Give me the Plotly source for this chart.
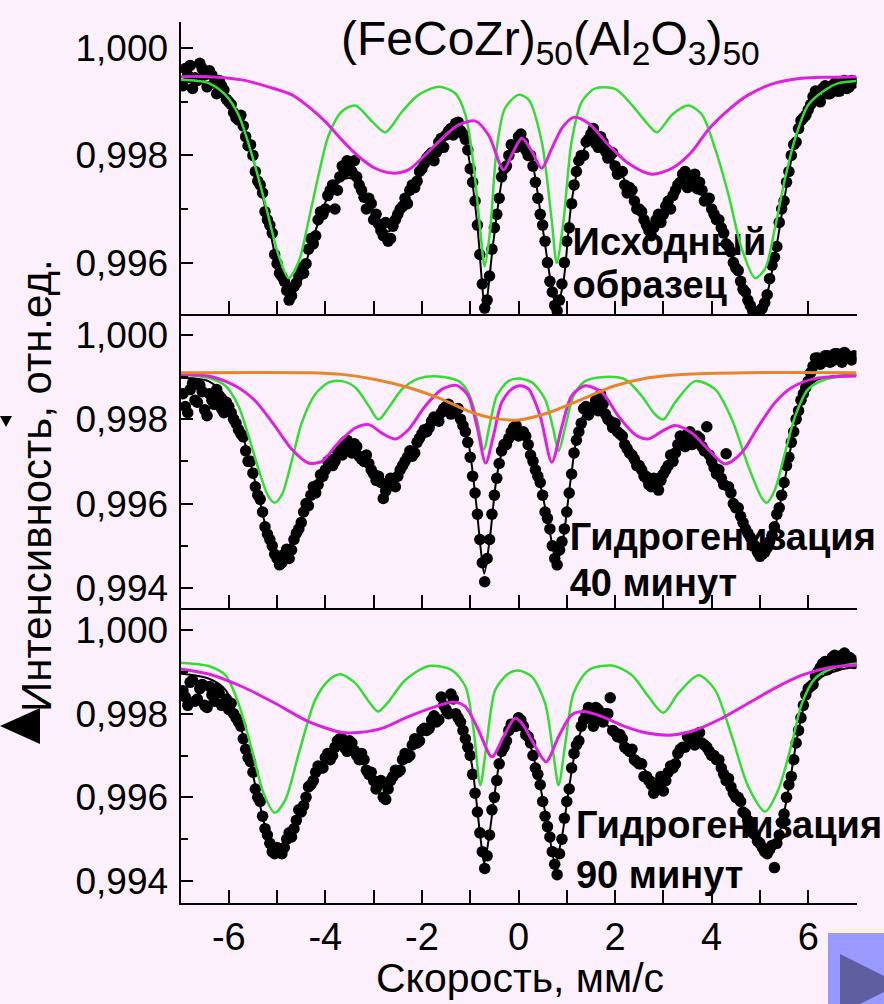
import plotly.graph_objects as go

# ---------------- data ----------------
dot_v = [-6.9, -6.8, -6.7, -6.6, -6.5, -6.4, -6.3, -6.2, -6.1, -6.0,
         -5.9, -5.8, -5.7, -5.6, -5.5, -5.4, -5.3, -5.2, -5.1, -5.0,
         -4.9, -4.8, -4.7, -4.6, -4.5, -4.4, -4.3, -4.2, -4.1, -4.0,
         -3.9, -3.8, -3.7, -3.6, -3.5, -3.4, -3.3, -3.2, -3.1, -3.0,
         -2.9, -2.8, -2.7, -2.6, -2.5, -2.4, -2.3, -2.2, -2.1, -2.0,
         -1.9, -1.8, -1.7, -1.6, -1.5, -1.4, -1.3, -1.2, -1.1, -1.0,
         -0.9, -0.8, -0.7, -0.6, -0.5, -0.4, -0.3, -0.2, -0.1, 0.0,
         0.1, 0.2, 0.3, 0.4, 0.5, 0.6, 0.7, 0.8, 0.9, 1.0,
         1.1, 1.2, 1.3, 1.4, 1.5, 1.6, 1.7, 1.8, 1.9, 2.0,
         2.1, 2.2, 2.3, 2.4, 2.5, 2.6, 2.7, 2.8, 2.9, 3.0,
         3.1, 3.2, 3.3, 3.4, 3.5, 3.6, 3.7, 3.8, 3.9, 4.0,
         4.1, 4.2, 4.3, 4.4, 4.5, 4.6, 4.7, 4.8, 4.9, 5.0,
         5.1, 5.2, 5.3, 5.4, 5.5, 5.6, 5.7, 5.8, 5.9, 6.0,
         6.1, 6.2, 6.3, 6.4, 6.5, 6.6, 6.7, 6.8, 6.9]

dot_v2 = [-6.95, -6.85, -6.75, -6.65, -6.55, -6.45, -6.35, -6.25, -6.15, -6.05,
          -5.95, -5.85, -5.75, -5.65, -5.55, -5.45, -5.35, -5.25, -5.15, -5.05,
          -4.95, -4.85, -4.75, -4.65, -4.55, -4.45, -4.35, -4.25, -4.15, -4.05,
          -3.95, -3.85, -3.75, -3.65, -3.55, -3.45, -3.35, -3.25, -3.15, -3.05,
          -2.95, -2.85, -2.75, -2.65, -2.55, -2.45, -2.35, -2.25, -2.15, -2.05,
          -1.95, -1.85, -1.75, -1.65, -1.55, -1.45, -1.35, -1.25, -1.15, -1.05,
          -0.95, -0.85, -0.75, -0.65, -0.55, -0.45, -0.35, -0.25, -0.15, -0.05,
          0.05, 0.15, 0.25, 0.35, 0.45, 0.55, 0.65, 0.75, 0.85, 0.95,
          1.05, 1.15, 1.25, 1.35, 1.45, 1.55, 1.65, 1.75, 1.85, 1.95,
          2.05, 2.15, 2.25, 2.35, 2.45, 2.55, 2.65, 2.75, 2.85, 2.95,
          3.05, 3.15, 3.25, 3.35, 3.45, 3.55, 3.65, 3.75, 3.85, 3.95,
          4.05, 4.15, 4.25, 4.35, 4.45, 4.55, 4.65, 4.75, 4.85, 4.95,
          5.05, 5.15, 5.25, 5.35, 5.45, 5.55, 5.65, 5.75, 5.85, 5.95,
          6.05, 6.15, 6.25, 6.35, 6.45, 6.55, 6.65, 6.75, 6.85, 6.95]

p1_dots = [0.99962, 0.99968, 0.99945, 0.99972, 0.99950, 0.99958, 0.99935, 0.99940, 0.99922, 0.99900,
           0.99880, 0.99866, 0.99855, 0.99818, 0.99800, 0.99752, 0.99730, 0.99680, 0.99655, 0.99598,
           0.99574, 0.99548, 0.99538, 0.99562, 0.99590, 0.99598, 0.99645, 0.99650, 0.99695, 0.99700,
           0.99735, 0.99700, 0.99760, 0.99768, 0.99775, 0.99790, 0.99745, 0.99722, 0.99720, 0.99680,
           0.99672, 0.99650, 0.99640, 0.99668, 0.99690, 0.99705, 0.99710, 0.99745, 0.99752, 0.99775,
           0.99795, 0.99805, 0.99806, 0.99832, 0.99838, 0.99850, 0.99860, 0.99846, 0.99830, 0.99775,
           0.99715, 0.99615, 0.99515, 0.99575, 0.99665, 0.99720, 0.99775, 0.99800, 0.99815, 0.99835,
           0.99825, 0.99800, 0.99780, 0.99720, 0.99670, 0.99600, 0.99545, 0.99510, 0.99560, 0.99640,
           0.99710, 0.99770, 0.99800, 0.99825, 0.99840, 0.99822, 0.99835, 0.99808, 0.99800, 0.99780,
           0.99770, 0.99745, 0.99740, 0.99715, 0.99700, 0.99680, 0.99660, 0.99665, 0.99690, 0.99690,
           0.99715, 0.99725, 0.99745, 0.99765, 0.99740, 0.99760, 0.99738, 0.99735, 0.99720, 0.99700,
           0.99680, 0.99665, 0.99635, 0.99620, 0.99590, 0.99565, 0.99545, 0.99520, 0.99508, 0.99510,
           0.99525, 0.99570, 0.99610, 0.99675, 0.99715, 0.99770, 0.99820, 0.99850, 0.99870, 0.99885,
           0.99910, 0.99905, 0.99925, 0.99915, 0.99930, 0.99920, 0.99935, 0.99925, 0.99940]

p1_dots2 = [0.99930, 0.99950, 0.99925, 0.99940, 0.99962, 0.99928, 0.99950, 0.99915, 0.99930, 0.99905,
            0.99895, 0.99870, 0.99875, 0.99835, 0.99820, 0.99770, 0.99745, 0.99695, 0.99670, 0.99615,
            0.99580, 0.99565, 0.99530, 0.99555, 0.99575, 0.99580, 0.99625, 0.99635, 0.99680, 0.99690,
            0.99725, 0.99745, 0.99735, 0.99780, 0.99790, 0.99770, 0.99760, 0.99735, 0.99700, 0.99710,
            0.99690, 0.99660, 0.99675, 0.99645, 0.99680, 0.99700, 0.99720, 0.99735, 0.99740, 0.99770,
            0.99785, 0.99800, 0.99790, 0.99825, 0.99815, 0.99845, 0.99838, 0.99862, 0.99840, 0.99810,
            0.99750, 0.99670, 0.99560, 0.99530, 0.99625, 0.99690, 0.99760, 0.99780, 0.99820, 0.99815,
            0.99840, 0.99810, 0.99800, 0.99750, 0.99690, 0.99640, 0.99565, 0.99520, 0.99530, 0.99600,
            0.99665, 0.99745, 0.99790, 0.99800, 0.99830, 0.99850, 0.99815, 0.99825, 0.99795, 0.99805,
            0.99765, 0.99770, 0.99730, 0.99735, 0.99700, 0.99695, 0.99670, 0.99650, 0.99680, 0.99675,
            0.99705, 0.99700, 0.99735, 0.99750, 0.99770, 0.99745, 0.99765, 0.99750, 0.99715, 0.99720,
            0.99690, 0.99680, 0.99655, 0.99630, 0.99600, 0.99585, 0.99550, 0.99530, 0.99510, 0.99506,
            0.99515, 0.99540, 0.99595, 0.99630, 0.99700, 0.99750, 0.99800, 0.99825, 0.99865, 0.99875,
            0.99895, 0.99920, 0.99900, 0.99930, 0.99915, 0.99935, 0.99920, 0.99940, 0.99928, 0.99935]

p2_dots = [0.99830, 0.99870, 0.99845, 0.99880, 0.99822, 0.99860, 0.99835, 0.99850, 0.99815, 0.99830,
           0.99800, 0.99775, 0.99758, 0.99700, 0.99672, 0.99620, 0.99580, 0.99528, 0.99500, 0.99470,
           0.99460, 0.99492, 0.99490, 0.99530, 0.99555, 0.99600, 0.99620, 0.99625, 0.99668, 0.99680,
           0.99705, 0.99700, 0.99730, 0.99745, 0.99725, 0.99742, 0.99712, 0.99700, 0.99695, 0.99670,
           0.99665, 0.99612, 0.99640, 0.99655, 0.99665, 0.99690, 0.99710, 0.99712, 0.99745, 0.99765,
           0.99770, 0.99795, 0.99800, 0.99815, 0.99830, 0.99812, 0.99820, 0.99800, 0.99770, 0.99710,
           0.99625, 0.99515, 0.99415, 0.99515, 0.99620, 0.99695, 0.99740, 0.99755, 0.99780, 0.99760,
           0.99770, 0.99740, 0.99700, 0.99665, 0.99620, 0.99565, 0.99500, 0.99455, 0.99510, 0.99580,
           0.99670, 0.99750, 0.99790, 0.99830, 0.99820, 0.99845, 0.99858, 0.99812, 0.99795, 0.99790,
           0.99765, 0.99740, 0.99720, 0.99705, 0.99690, 0.99665, 0.99645, 0.99660, 0.99632, 0.99670,
           0.99690, 0.99700, 0.99740, 0.99750, 0.99765, 0.99740, 0.99760, 0.99735, 0.99782, 0.99700,
           0.99670, 0.99660, 0.99718, 0.99625, 0.99590, 0.99570, 0.99540, 0.99520, 0.99500, 0.99475,
           0.99485, 0.99510, 0.99545, 0.99590, 0.99650, 0.99710, 0.99770, 0.99820, 0.99860, 0.99890,
           0.99925, 0.99945, 0.99935, 0.99950, 0.99938, 0.99955, 0.99935, 0.99952, 0.99940]

p2_dots2 = [0.99860, 0.99815, 0.99885, 0.99840, 0.99865, 0.99808, 0.99845, 0.99870, 0.99825, 0.99840,
            0.99815, 0.99790, 0.99765, 0.99725, 0.99700, 0.99640, 0.99610, 0.99545, 0.99515, 0.99480,
            0.99455, 0.99480, 0.99470, 0.99515, 0.99540, 0.99580, 0.99595, 0.99640, 0.99645, 0.99665,
            0.99700, 0.99690, 0.99725, 0.99715, 0.99750, 0.99720, 0.99735, 0.99705, 0.99715, 0.99680,
            0.99655, 0.99650, 0.99630, 0.99660, 0.99640, 0.99680, 0.99700, 0.99725, 0.99720, 0.99755,
            0.99775, 0.99780, 0.99805, 0.99795, 0.99825, 0.99835, 0.99815, 0.99825, 0.99785, 0.99745,
            0.99665, 0.99575, 0.99460, 0.99470, 0.99575, 0.99660, 0.99725, 0.99740, 0.99770, 0.99785,
            0.99765, 0.99760, 0.99715, 0.99680, 0.99650, 0.99580, 0.99540, 0.99470, 0.99490, 0.99540,
            0.99625, 0.99720, 0.99770, 0.99825, 0.99810, 0.99830, 0.99820, 0.99835, 0.99800, 0.99780,
            0.99770, 0.99760, 0.99730, 0.99715, 0.99690, 0.99680, 0.99660, 0.99640, 0.99650, 0.99655,
            0.99680, 0.99715, 0.99720, 0.99760, 0.99735, 0.99770, 0.99745, 0.99755, 0.99725, 0.99715,
            0.99685, 0.99680, 0.99645, 0.99640, 0.99600, 0.99590, 0.99555, 0.99530, 0.99500, 0.99485,
            0.99480, 0.99495, 0.99525, 0.99575, 0.99620, 0.99690, 0.99745, 0.99800, 0.99845, 0.99875,
            0.99910, 0.99945, 0.99930, 0.99950, 0.99935, 0.99955, 0.99940, 0.99958, 0.99945, 0.99950]

p3_dots = [0.99840, 0.99875, 0.99830, 0.99860, 0.99820, 0.99865, 0.99830, 0.99850, 0.99825, 0.99810,
           0.99800, 0.99780, 0.99740, 0.99695, 0.99660, 0.99600, 0.99555, 0.99510, 0.99470, 0.99480,
           0.99465, 0.99500, 0.99505, 0.99545, 0.99565, 0.99600, 0.99630, 0.99660, 0.99670, 0.99695,
           0.99690, 0.99720, 0.99740, 0.99718, 0.99735, 0.99712, 0.99690, 0.99690, 0.99655, 0.99640,
           0.99630, 0.99600, 0.99620, 0.99650, 0.99660, 0.99690, 0.99695, 0.99725, 0.99730, 0.99760,
           0.99760, 0.99785, 0.99780, 0.99840, 0.99810, 0.99847, 0.99800, 0.99780, 0.99740, 0.99700,
           0.99610, 0.99515, 0.99430, 0.99510, 0.99600, 0.99680, 0.99720, 0.99760, 0.99770, 0.99790,
           0.99770, 0.99745, 0.99700, 0.99655, 0.99590, 0.99530, 0.99470, 0.99415, 0.99500, 0.99590,
           0.99670, 0.99725, 0.99770, 0.99800, 0.99790, 0.99815, 0.99790, 0.99800, 0.99838, 0.99755,
           0.99750, 0.99720, 0.99710, 0.99690, 0.99680, 0.99650, 0.99640, 0.99610, 0.99630, 0.99615,
           0.99660, 0.99670, 0.99705, 0.99720, 0.99745, 0.99730, 0.99750, 0.99730, 0.99720, 0.99700,
           0.99690, 0.99670, 0.99640, 0.99625, 0.99600, 0.99590, 0.99560, 0.99535, 0.99510, 0.99490,
           0.99470, 0.99475, 0.99432, 0.99510, 0.99560, 0.99630, 0.99690, 0.99760, 0.99820, 0.99860,
           0.99870, 0.99900, 0.99920, 0.99905, 0.99935, 0.99915, 0.99940, 0.99925, 0.99930]

p3_dots2 = [0.99855, 0.99820, 0.99880, 0.99835, 0.99870, 0.99815, 0.99845, 0.99860, 0.99820, 0.99835,
            0.99825, 0.99790, 0.99770, 0.99715, 0.99685, 0.99620, 0.99590, 0.99525, 0.99490, 0.99465,
            0.99470, 0.99480, 0.99515, 0.99525, 0.99570, 0.99580, 0.99625, 0.99640, 0.99675, 0.99670,
            0.99705, 0.99700, 0.99735, 0.99740, 0.99710, 0.99730, 0.99700, 0.99705, 0.99665, 0.99660,
            0.99620, 0.99640, 0.99595, 0.99640, 0.99665, 0.99665, 0.99705, 0.99700, 0.99740, 0.99735,
            0.99765, 0.99765, 0.99795, 0.99785, 0.99820, 0.99800, 0.99835, 0.99790, 0.99760, 0.99720,
            0.99655, 0.99565, 0.99470, 0.99460, 0.99570, 0.99640, 0.99710, 0.99735, 0.99775, 0.99770,
            0.99785, 0.99750, 0.99730, 0.99670, 0.99630, 0.99555, 0.99505, 0.99440, 0.99465, 0.99550,
            0.99620, 0.99705, 0.99735, 0.99785, 0.99815, 0.99770, 0.99810, 0.99780, 0.99800, 0.99760,
            0.99745, 0.99740, 0.99715, 0.99715, 0.99685, 0.99680, 0.99650, 0.99630, 0.99625, 0.99650,
            0.99640, 0.99675, 0.99680, 0.99715, 0.99720, 0.99740, 0.99725, 0.99755, 0.99725, 0.99710,
            0.99700, 0.99690, 0.99655, 0.99645, 0.99610, 0.99600, 0.99565, 0.99545, 0.99515, 0.99495,
            0.99480, 0.99465, 0.99485, 0.99490, 0.99540, 0.99600, 0.99650, 0.99730, 0.99790, 0.99845,
            0.99865, 0.99890, 0.99910, 0.99925, 0.99915, 0.99940, 0.99925, 0.99945, 0.99935, 0.99920]

# fitted curves: (velocity, intensity)
p1_fit = [(-7.0, 0.99938), (-6.4, 0.99932), (-6.07, 0.99913), (-5.8, 0.99876), (-5.52, 0.99801),
          (-5.24, 0.99701), (-4.97, 0.99589), (-4.73, 0.99543), (-4.49, 0.99577), (-4.21, 0.99658),
          (-3.93, 0.99726), (-3.66, 0.99754), (-3.45, 0.99757), (-3.17, 0.99726), (-2.9, 0.99677),
          (-2.69, 0.99658), (-2.41, 0.99695), (-2.14, 0.99751), (-1.79, 0.99801), (-1.45, 0.99838),
          (-1.21, 0.99851), (-1.04, 0.99801), (-0.86, 0.99677), (-0.69, 0.99518), (-0.52, 0.99639),
          (-0.31, 0.99770), (-0.14, 0.99813), (0.07, 0.99832), (0.28, 0.99788), (0.48, 0.99677),
          (0.69, 0.99552), (0.79, 0.99515), (0.93, 0.99564), (1.1, 0.99714), (1.31, 0.99801),
          (1.52, 0.99832), (1.79, 0.99813), (2.14, 0.99764), (2.49, 0.99701), (2.76, 0.99670),
          (3.04, 0.99695), (3.31, 0.99739), (3.52, 0.99757), (3.8, 0.99739), (4.07, 0.99689),
          (4.42, 0.99614), (4.69, 0.99546), (4.9, 0.99515), (5.11, 0.99533), (5.31, 0.99614),
          (5.52, 0.99726), (5.73, 0.99826), (6.0, 0.99894), (6.35, 0.99922), (7.0, 0.99935)]

p1_green = [(-7.0, 0.99941), (-6.42, 0.99935), (-6.07, 0.99913), (-5.8, 0.99876), (-5.52, 0.99801),
            (-5.24, 0.99708), (-4.97, 0.99614), (-4.76, 0.99571), (-4.55, 0.99602), (-4.35, 0.99677),
            (-4.14, 0.99764), (-3.93, 0.99838), (-3.66, 0.99882), (-3.38, 0.99893), (-3.03, 0.99863),
            (-2.76, 0.99843), (-2.41, 0.99882), (-2.07, 0.99913), (-1.65, 0.99928), (-1.31, 0.99916),
            (-1.1, 0.99876), (-0.93, 0.99782), (-0.79, 0.99658), (-0.7, 0.99593), (-0.59, 0.99658),
            (-0.45, 0.99813), (-0.28, 0.99888), (0.0, 0.99913), (0.21, 0.99904), (0.48, 0.99826),
            (0.69, 0.99677), (0.79, 0.99599), (0.93, 0.99677), (1.1, 0.99826), (1.31, 0.99900),
            (1.59, 0.99925), (2.0, 0.99924), (2.35, 0.99894), (2.69, 0.99857), (2.87, 0.99843),
            (3.18, 0.99876), (3.52, 0.99893), (3.8, 0.99876), (4.07, 0.99813), (4.35, 0.99726),
            (4.62, 0.99627), (4.9, 0.99571), (5.11, 0.99589), (5.31, 0.99664), (5.52, 0.99757),
            (5.73, 0.99832), (6.0, 0.99894), (6.35, 0.99922), (6.63, 0.99935), (7.0, 0.99939)]

p1_magenta = [(-7.0, 0.99947), (-6.42, 0.99947), (-5.73, 0.99941), (-5.18, 0.99928), (-4.69, 0.99913),
              (-4.35, 0.99891), (-4.0, 0.99863), (-3.66, 0.99829), (-3.31, 0.99798), (-2.97, 0.99776),
              (-2.62, 0.99767), (-2.28, 0.99773), (-1.93, 0.99801), (-1.58, 0.99832), (-1.24, 0.99857),
              (-0.89, 0.99864), (-0.62, 0.99838), (-0.31, 0.99773), (-0.14, 0.99801), (0.07, 0.99832),
              (0.28, 0.99807), (0.48, 0.99776), (0.69, 0.99813), (0.9, 0.99851), (1.14, 0.99871),
              (1.45, 0.99860), (1.86, 0.99820), (2.28, 0.99785), (2.76, 0.99765), (3.18, 0.99776),
              (3.59, 0.99807), (3.93, 0.99848), (4.35, 0.99885), (4.76, 0.99913), (5.31, 0.99935),
              (5.87, 0.99944), (6.42, 0.99946), (7.0, 0.99947)]

p2_fit = [(-7.0, 0.99898), (-6.42, 0.99890), (-6.07, 0.99855), (-5.8, 0.99791), (-5.59, 0.99712),
          (-5.38, 0.99617), (-5.18, 0.99521), (-5.0, 0.99474), (-4.8, 0.99490), (-4.56, 0.99545),
          (-4.28, 0.99617), (-4.0, 0.99680), (-3.73, 0.99720), (-3.49, 0.99732), (-3.17, 0.99704),
          (-2.83, 0.99656), (-2.62, 0.99648), (-2.35, 0.99688), (-2.0, 0.99760), (-1.65, 0.99807),
          (-1.38, 0.99823), (-1.1, 0.99775), (-0.9, 0.99625), (-0.78, 0.99490), (-0.71, 0.99434),
          (-0.59, 0.99521), (-0.45, 0.99664), (-0.28, 0.99744), (-0.07, 0.99772), (0.05, 0.99775),
          (0.21, 0.99744), (0.41, 0.99664), (0.59, 0.99569), (0.72, 0.99490), (0.79, 0.99458),
          (0.93, 0.99521), (1.07, 0.99648), (1.24, 0.99775), (1.45, 0.99831), (1.62, 0.99839),
          (1.93, 0.99799), (2.28, 0.99736), (2.62, 0.99680), (2.83, 0.99668), (3.11, 0.99696),
          (3.38, 0.99744), (3.59, 0.99752), (3.87, 0.99720), (4.21, 0.99664), (4.56, 0.99585),
          (4.83, 0.99514), (5.04, 0.99490), (5.25, 0.99521), (5.45, 0.99617), (5.66, 0.99744),
          (5.87, 0.99839), (6.14, 0.99890), (6.56, 0.99902), (7.0, 0.99904)]

p2_green = [(-7.0, 0.99906), (-6.42, 0.99898), (-6.07, 0.99879), (-5.8, 0.99831), (-5.59, 0.99760),
            (-5.38, 0.99680), (-5.18, 0.99617), (-5.05, 0.99602), (-4.9, 0.99621), (-4.69, 0.99704),
            (-4.49, 0.99791), (-4.21, 0.99859), (-3.93, 0.99887), (-3.66, 0.99890), (-3.38, 0.99875),
            (-3.1, 0.99831), (-2.9, 0.99799), (-2.69, 0.99827), (-2.41, 0.99871), (-2.07, 0.99896),
            (-1.65, 0.99901), (-1.24, 0.99890), (-1.04, 0.99863), (-0.86, 0.99799), (-0.72, 0.99728),
            (-0.59, 0.99791), (-0.45, 0.99855), (-0.21, 0.99890), (0.0, 0.99896), (0.28, 0.99887),
            (0.55, 0.99847), (0.72, 0.99776), (0.83, 0.99724), (0.97, 0.99783), (1.14, 0.99855),
            (1.38, 0.99890), (1.79, 0.99900), (2.21, 0.99894), (2.55, 0.99855), (2.83, 0.99811),
            (3.0, 0.99799), (3.24, 0.99839), (3.66, 0.99890), (4.07, 0.99871), (4.42, 0.99799),
            (4.76, 0.99688), (5.04, 0.99613), (5.14, 0.99602), (5.31, 0.99633), (5.52, 0.99720),
            (5.73, 0.99807), (6.0, 0.99871), (6.35, 0.99894), (7.0, 0.99904)]

p2_magenta = [(-7.0, 0.99906), (-6.42, 0.99902), (-5.87, 0.99879), (-5.45, 0.99843), (-5.04, 0.99783),
              (-4.69, 0.99728), (-4.35, 0.99696), (-4.07, 0.99700), (-3.73, 0.99744), (-3.38, 0.99779),
              (-3.1, 0.99787), (-2.83, 0.99767), (-2.55, 0.99753), (-2.28, 0.99775), (-1.93, 0.99831),
              (-1.58, 0.99871), (-1.28, 0.99880), (-1.04, 0.99855), (-0.86, 0.99783), (-0.68, 0.99696),
              (-0.52, 0.99760), (-0.35, 0.99839), (-0.14, 0.99871), (0.03, 0.99879), (0.21, 0.99871),
              (0.45, 0.99807), (0.69, 0.99698), (0.9, 0.99783), (1.1, 0.99855), (1.38, 0.99879),
              (1.73, 0.99863), (2.07, 0.99807), (2.42, 0.99763), (2.69, 0.99753), (2.97, 0.99771),
              (3.24, 0.99785), (3.59, 0.99767), (3.93, 0.99728), (4.28, 0.99694), (4.62, 0.99720),
              (4.97, 0.99783), (5.31, 0.99839), (5.66, 0.99875), (6.14, 0.99896), (7.0, 0.99902)]

p2_orange = [(-7.0, 0.99910), (-4.35, 0.99910), (-3.66, 0.99906), (-2.97, 0.99894), (-2.28, 0.99875),
             (-1.58, 0.99847), (-1.04, 0.99819), (-0.55, 0.99803), (0.0, 0.99798), (0.62, 0.99815),
             (1.31, 0.99847), (2.0, 0.99879), (2.69, 0.99898), (3.38, 0.99906), (4.76, 0.99910),
             (7.0, 0.99910)]

p3_fit = [(-7.0, 0.99896), (-6.42, 0.99884), (-6.07, 0.99857), (-5.8, 0.99785), (-5.59, 0.99697),
          (-5.38, 0.99594), (-5.18, 0.99506), (-5.0, 0.99478), (-4.83, 0.99494), (-4.55, 0.99562),
          (-4.28, 0.99641), (-4.0, 0.99689), (-3.73, 0.99721), (-3.52, 0.99725), (-3.24, 0.99689),
          (-2.97, 0.99633), (-2.76, 0.99625), (-2.49, 0.99665), (-2.14, 0.99729), (-1.72, 0.99785),
          (-1.38, 0.99809), (-1.17, 0.99777), (-0.97, 0.99681), (-0.79, 0.99506), (-0.71, 0.99442),
          (-0.59, 0.99522), (-0.41, 0.99673), (-0.21, 0.99753), (0.0, 0.99785), (0.21, 0.99737),
          (0.41, 0.99649), (0.62, 0.99522), (0.76, 0.99442), (0.9, 0.99506), (1.04, 0.99618),
          (1.21, 0.99729), (1.38, 0.99777), (1.59, 0.99785), (1.93, 0.99765), (2.28, 0.99721),
          (2.62, 0.99665), (2.9, 0.99641), (3.18, 0.99673), (3.52, 0.99729), (3.73, 0.99741),
          (4.0, 0.99713), (4.35, 0.99641), (4.69, 0.99562), (5.04, 0.99490), (5.21, 0.99474),
          (5.38, 0.99506), (5.59, 0.99618), (5.8, 0.99761), (6.0, 0.99849), (6.28, 0.99888),
          (6.63, 0.99904), (7.0, 0.99912)]

p3_green = [(-7.0, 0.99922), (-6.42, 0.99914), (-6.07, 0.99892), (-5.8, 0.99825), (-5.52, 0.99713),
            (-5.28, 0.99610), (-5.05, 0.99563), (-4.83, 0.99594), (-4.55, 0.99705), (-4.21, 0.99833),
            (-3.93, 0.99880), (-3.69, 0.99894), (-3.38, 0.99873), (-3.1, 0.99829), (-2.91, 0.99805),
            (-2.69, 0.99829), (-2.35, 0.99880), (-1.86, 0.99914), (-1.38, 0.99904), (-1.1, 0.99865),
            (-0.93, 0.99761), (-0.79, 0.99629), (-0.66, 0.99729), (-0.48, 0.99857), (-0.21, 0.99896),
            (0.0, 0.99903), (0.28, 0.99888), (0.55, 0.99825), (0.72, 0.99705), (0.83, 0.99629),
            (0.97, 0.99729), (1.14, 0.99849), (1.45, 0.99904), (1.93, 0.99915), (2.35, 0.99892),
            (2.69, 0.99841), (3.0, 0.99802), (3.31, 0.99849), (3.73, 0.99892), (4.07, 0.99857),
            (4.42, 0.99745), (4.76, 0.99625), (5.11, 0.99566), (5.38, 0.99618), (5.66, 0.99729),
            (5.87, 0.99825), (6.14, 0.99884), (6.49, 0.99908), (7.0, 0.99920)]

p3_magenta = [(-7.0, 0.99907), (-6.42, 0.99895), (-5.73, 0.99865), (-5.04, 0.99825), (-4.35, 0.99781),
              (-3.66, 0.99755), (-3.31, 0.99755), (-2.83, 0.99765), (-2.28, 0.99793), (-1.72, 0.99817),
              (-1.35, 0.99828), (-1.1, 0.99817), (-0.83, 0.99761), (-0.55, 0.99697), (-0.31, 0.99745),
              (-0.07, 0.99789), (0.07, 0.99777), (0.35, 0.99721), (0.57, 0.99685), (0.83, 0.99745),
              (1.1, 0.99797), (1.35, 0.99805), (1.73, 0.99793), (2.21, 0.99769), (2.69, 0.99753),
              (3.18, 0.99749), (3.66, 0.99761), (4.21, 0.99789), (4.76, 0.99825), (5.31, 0.99861),
              (5.87, 0.99892), (6.42, 0.99910), (7.0, 0.99916)]

panel_labels = [["Исходный", "образец"],
                ["Гидрогенизация", "40 минут"],
                ["Гидрогенизация", "90 минут"]]
label_pos = [(1.12, [0.99631, 0.99551]),
             (1.06, [0.99512, 0.99403]),
             (1.19, [0.99525, 0.99405])]

x_range = [-7, 7]
y_ranges = [[0.99504, 1.00049], [0.99352, 1.00049], [0.99348, 1.00052]]
x_ticks = [-6, -4, -2, 0, 2, 4, 6]

title_html = "(FeCoZr)<sub>50</sub>(Al<sub>2</sub>O<sub>3</sub>)<sub>50</sub>"
x_title = "Скорость, мм/с"
y_title = "Интенсивность, отн.ед."

# ---------------- styling ----------------
BG = "#FDF0FD"
FONT = "Liberation Sans"
GREEN = "#33DD33"
MAGENTA = "#DD22DD"
ORANGE = "#E6862A"
W, H = 884, 1004

x_dom = [180.5 / W, 856.5 / W]
y_doms = [[1 - 314 / H, 1 - 22 / H], [1 - 608.3 / H, 1 - 314 / H], [1 - 902.7 / H, 1 - 608.3 / H]]

fig = go.Figure()

panels = [
    (p1_dots, p1_dots2, p1_fit, [(p1_green, GREEN, 2.5), (p1_magenta, MAGENTA, 3)]),
    (p2_dots, p2_dots2, p2_fit, [(p2_green, GREEN, 2.5), (p2_magenta, MAGENTA, 3), (p2_orange, ORANGE, 3)]),
    (p3_dots, p3_dots2, p3_fit, [(p3_green, GREEN, 2.5), (p3_magenta, MAGENTA, 3)]),
]

for i, (dots, dots2, fit, comps) in enumerate(panels):
    xa = "x" if i == 0 else f"x{i + 1}"
    ya = "y" if i == 0 else f"y{i + 1}"
    lx, lys = label_pos[i]
    fig.add_trace(go.Scatter(
        x=[lx, lx], y=lys, text=panel_labels[i], mode="text",
        textposition="middle right", cliponaxis=False,
        textfont=dict(family=FONT, size=38, color="black", weight="bold"),
        xaxis=xa, yaxis=ya, hoverinfo="skip"))
    for dv, dd in ((dot_v, dots), (dot_v2, dots2)):
        fig.add_trace(go.Scatter(
            x=dv, y=dd, mode="markers",
            marker=dict(color="black", size=11.5, line=dict(width=0)),
            xaxis=xa, yaxis=ya))
    fig.add_trace(go.Scatter(
        x=[p[0] for p in fit], y=[p[1] for p in fit], mode="lines",
        line=dict(color="black", width=2, shape="spline", smoothing=0.8),
        xaxis=xa, yaxis=ya))
    for comp, col, wd in comps:
        fig.add_trace(go.Scatter(
            x=[p[0] for p in comp], y=[p[1] for p in comp], mode="lines",
            line=dict(color=col, width=wd, shape="spline", smoothing=0.8),
            xaxis=xa, yaxis=ya))

axis_common = dict(showline=True, linecolor="black", linewidth=2, showgrid=False,
                   zeroline=False, ticks="inside", tickcolor="black", tickwidth=2)

layout = dict(
    width=W, height=H, margin=dict(l=0, r=0, t=0, b=0),
    paper_bgcolor=BG, plot_bgcolor=BG, showlegend=False,
    separators=", ", font=dict(family=FONT, color="black"),
)
for i in range(3):
    xk = "xaxis" if i == 0 else f"xaxis{i + 1}"
    yk = "yaxis" if i == 0 else f"yaxis{i + 1}"
    ysuf = "y" if i == 0 else f"y{i + 1}"
    xsuf = "x" if i == 0 else f"x{i + 1}"
    xa = dict(axis_common, domain=x_dom, range=x_range, anchor=ysuf, ticklen=13)
    if i == 2:
        xa.update(tickvals=x_ticks, ticktext=[str(t) for t in x_ticks],
                  showticklabels=True, tickfont=dict(family=FONT, size=38),
                  minor=dict(dtick=1, tick0=0, ticks="inside", ticklen=13,
                             tickwidth=2, tickcolor="black"))
    else:
        xa.update(dtick=1, tick0=0, showticklabels=False)
    layout[xk] = xa
    layout[yk] = dict(axis_common, domain=y_doms[i], range=y_ranges[i], anchor=xsuf,
                      tick0=1.0, dtick=0.002, tickformat=".3f", ticklen=12,
                      tickfont=dict(family=FONT, size=37), ticklabelstandoff=3,
                      minor=dict(dtick=0.001, ticks="inside", ticklen=7,
                                 tickwidth=2, tickcolor="black"))

fig.update_layout(**layout)


def px(x):
    return x / W


def py(y):
    return 1 - y / H


fig.add_annotation(text=title_html, x=px(550), y=py(42), xref="paper", yref="paper",
                   showarrow=False, xanchor="center", yanchor="middle",
                   font=dict(family=FONT, size=48, color="black"))
fig.add_annotation(text=x_title, x=px(520), y=py(978), xref="paper", yref="paper",
                   showarrow=False, xanchor="center", yanchor="middle",
                   font=dict(family=FONT, size=41, color="black"))
fig.add_annotation(text=y_title, x=px(36), y=py(486), xref="paper", yref="paper",
                   showarrow=False, xanchor="center", yanchor="middle", textangle=-90,
                   font=dict(family=FONT, size=42, color="black"))


def path(points):
    return "M " + " L ".join(f"{px(a)},{py(b)}" for a, b in points) + " Z"


shapes = [
    dict(type="path", path=path([(40, 708), (0, 726), (40, 744)]),
         fillcolor="black", line=dict(width=0)),
    dict(type="path", path=path([(0, 416), (12, 416), (6, 427)]),
         fillcolor="black", line=dict(width=0)),
    dict(type="rect", x0=px(828), x1=px(890), y0=py(1010), y1=py(933),
         fillcolor="#9999FF", line=dict(width=0)),
    dict(type="path", path=path([(840, 954), (900, 984), (840, 1014)]),
         fillcolor="#5F5F9F", line=dict(width=0)),
]
for s in shapes:
    s.update(xref="paper", yref="paper", layer="above")
fig.update_layout(shapes=shapes)

fig.write_html("out.html")
